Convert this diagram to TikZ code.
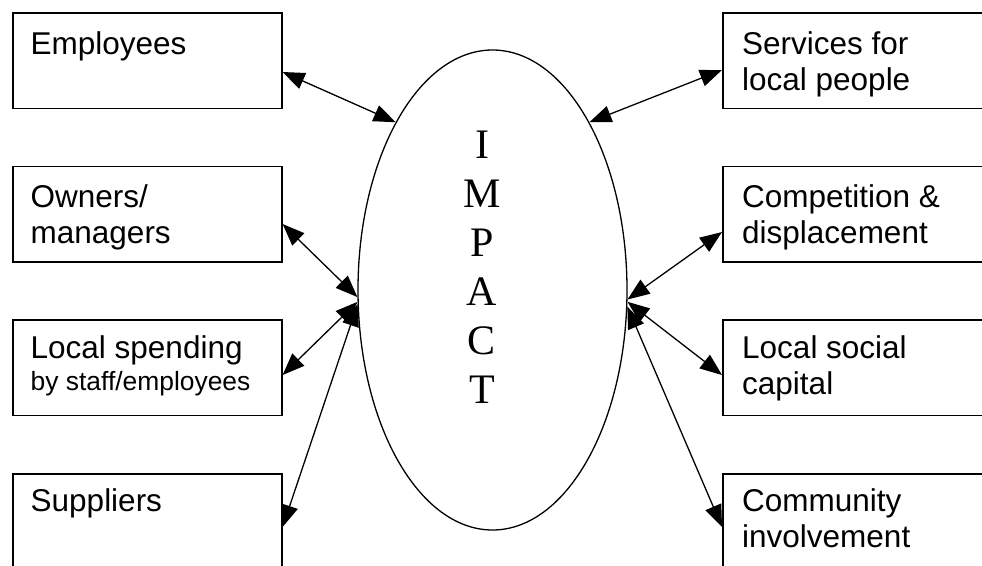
\documentclass[tikz,border=0pt]{standalone}
\usepackage{fontspec}
\setmainfont{Liberation Sans}
\newfontfamily\impfont{Liberation Serif}
\usetikzlibrary{arrows.meta,shapes.geometric}
\begin{document}
\begin{tikzpicture}[x=1pt,y=-1pt,
  box/.style={draw,line width=1.6pt,rectangle,minimum width=269pt,minimum height=95.5pt,inner sep=0pt,anchor=north west},
  txt/.style={anchor=base west,inner sep=0pt,font=\fontsize{31.5}{36}\selectfont},
  conn/.style={line width=1.3pt,{Triangle[length=22pt,width=17pt]}-{Triangle[length=22pt,width=17pt]}},
  oval/.style={draw,ellipse,line width=1.3pt,minimum width=269pt,minimum height=480pt,inner sep=0pt}
]
\useasboundingbox (0,0) rectangle (982,565);
\clip (0,0) rectangle (982,565);
\fill[white] (0,0) rectangle (982,565);

% left boxes
\node[box] (emp) at (12,12) {};
\node[box] (own) at (12,165.5) {};
\node[box] (loc) at (12,319) {};
\node[box] (sup) at (12,473) {};
% right boxes
\node[box] (ser) at (722,12) {};
\node[box] (com) at (722,165.5) {};
\node[box] (soc) at (722,319) {};
\node[box] (cin) at (722,473) {};

% texts
\node[txt] (empt) at (30.5,54) {Employees};
\node[txt] (ownt) at (30.5,207) {\parbox[t]{240pt}{Owners/\\managers}};
\node[txt] (loct) at (30.5,358) {\parbox[t]{245pt}{Local spending\par\fontsize{26.4}{32}\selectfont by staff/employees\par}};
\node[txt] (supt) at (30.5,511) {Suppliers};
\node[txt] (sert) at (742,54) {\parbox[t]{240pt}{Services for\\local people}};
\node[txt] (comt) at (742,207) {\parbox[t]{240pt}{Competition \&\\displacement}};
\node[txt] (soct) at (742,358) {\parbox[t]{240pt}{Local social\\capital}};
\node[txt] (cint) at (742,511) {\parbox[t]{240pt}{Community\\involvement}};

% central ellipse
\node[oval] (imp) at (492.5,290) {};
\node[anchor=base,inner sep=0pt,font=\impfont\fontsize{42}{49}\selectfont] (impt) at (482,158)
  {\parbox[t]{60pt}{\centering I\\M\\P\\A\\C\\T}};

% connectors
\draw[conn] ([yshift=-60pt]emp.north east) -- (imp.120);
\draw[conn] ([yshift=-58.5pt]own.north east) -- (imp.183.4);
\draw[conn] ([yshift=-56pt]loc.north east) -- (imp.185);
\draw[conn] ([yshift=-54pt]sup.north east) -- (imp.186.5);
\draw[conn] ([yshift=-58pt]ser.north west) -- (imp.60);
\draw[conn] ([yshift=-66.5pt]com.north west) -- (imp.356.6);
\draw[conn] ([yshift=-56pt]soc.north west) -- (imp.355);
\draw[conn] ([yshift=-54pt]cin.north west) -- (imp.353);
\end{tikzpicture}
\end{document}
